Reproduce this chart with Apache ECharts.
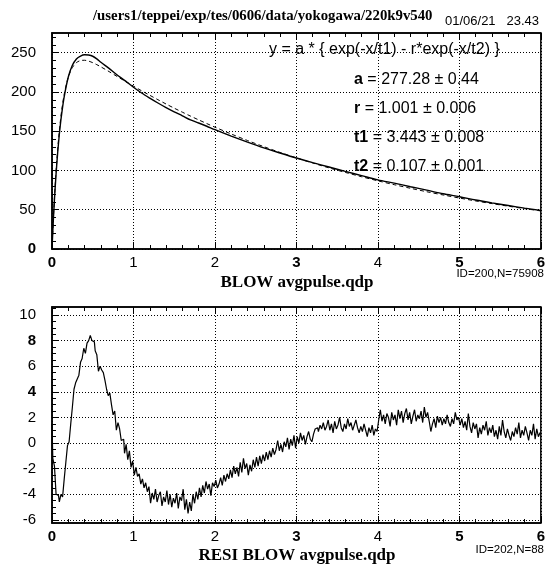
<!DOCTYPE html>
<html>
<head>
<meta charset="utf-8">
<script src="https://cdn.jsdelivr.net/npm/echarts@6/dist/echarts.min.js"></script>
<style>
html,body{margin:0;padding:0;background:#fff;}
#chart{width:548px;height:570px;}
</style>
</head>
<body>
<div id="chart"></div>
<script>
// ---------- data ----------
const titleText = '/users1/teppei/exp/tes/0606/data/yokogawa/220k9v540';
const dateText = '01/06/21   23.43';
const topXLabel = 'BLOW avgpulse.qdp';
const botXLabel = 'RESI BLOW avgpulse.qdp';
const topId = 'ID=200,N=75908';
const botId = 'ID=202,N=88';
const fitFormula = 'y = a * { exp(-x/t1) - r*exp(-x/t2) }';
const fitParams = [['a', ' = 277.28 ± 0.44'], ['r', ' = 1.001 ± 0.006'], ['t1', ' = 3.443 ± 0.008'], ['t2', ' = 0.107 ± 0.001']];

const xTicks = [0, 1, 2, 3, 4, 5, 6];
const topYTicks = [0, 50, 100, 150, 200, 250];
const botYTicks = [-6, -4, -2, 0, 2, 4, 6, 8, 10];

// upper panel: measured pulse (solid) and fit (dashed)
const topX = [0, 0.02, 0.04, 0.06, 0.08, 0.1, 0.12, 0.15, 0.2, 0.25, 0.3, 0.35, 0.4, 0.45, 0.5, 0.55, 0.6, 0.7, 0.8, 0.9,
  1.0, 1.1, 1.2, 1.3, 1.4, 1.5, 1.6, 1.7, 1.8, 1.9, 2.0, 2.2, 2.4, 2.6, 2.8, 3.0, 3.2, 3.4, 3.6, 3.8,
  4.0, 4.2, 4.4, 4.6, 4.8, 5.0, 5.2, 5.4, 5.6, 5.8, 6.0];
const pulseData = [0, 44, 80, 110, 135, 156, 173, 194, 219, 234, 242, 245.7, 247.3, 247, 245.4, 242, 237.7, 229.9, 221.6, 214,
  205.9, 198.6, 192.1, 185.9, 180.1, 174.7, 169.6, 164.3, 160.4, 156.3, 151.9, 143.8, 136.1, 128.8, 122.2, 115.8, 109.9, 104.4, 98.8, 93.4,
  88, 83.8, 79.3, 74.9, 70.3, 66.6, 62.4, 58.7, 55.3, 52, 49.1];
const fitData = [0, 45.4, 83.1, 114, 139.5, 160.3, 177.4, 197.1, 218.8, 231, 237.3, 239.9, 240.3, 239.2, 237.2, 234.7, 231.9, 225.9, 219.6, 213.5,
  207.4, 201.4, 195.7, 190.1, 184.6, 179.3, 174.2, 169.2, 164.4, 159.7, 155.1, 146.4, 138.1, 130.3, 122.9, 116, 109.5, 103.3, 97.5, 92,
  86.8, 81.9, 77.3, 72.9, 68.8, 64.9, 61.2, 57.8, 54.5, 51.4, 48.5];

// lower panel: residuals, one value every 0.02 from x = 0
const resStart = 0;
const resStep = 0.02;
const residuals = [
  1.5, -1.2, -1.8, -4.0, -4.1, -4.6, -4.0, -4.2, -2.8, -1.5,
  -0.2, 0.1, 1.5, 2.8, 4.2, 4.7, 5.0, 5.3, 6.3, 6.6,
  7.4, 7.0, 7.8, 8.0, 8.4, 8.0, 7.9, 7.2, 6.9, 5.6,
  6.0, 5.7, 5.5, 4.9, 4.2, 3.7, 3.9, 3.0, 2.2, 2.5,
  1.0, 1.6, 1.1, 0.2, 0.3, -0.8, -0.1, -1.3, -0.6, -1.9,
  -1.4, -2.5, -1.9, -2.6, -2.4, -3.2, -2.8, -3.5, -3.1, -3.8,
  -3.4, -4.7, -3.9, -4.4, -3.6, -4.6, -4.1, -3.8, -4.9, -4.2,
  -4.6, -3.7, -4.8, -4.0, -5.0, -4.3, -4.7, -3.9, -5.1, -4.2,
  -4.5, -3.6, -5.2, -4.4, -5.5, -4.6, -5.3, -4.0, -4.7, -3.8,
  -4.4, -3.5, -4.2, -3.3, -3.9, -3.0, -3.6, -3.2, -4.1, -3.1,
  -3.4, -2.9, -3.5, -3.2, -2.7, -3.3, -2.5, -3.0, -2.4, -2.8,
  -2.1, -2.7, -1.8, -2.4, -1.9, -2.6, -1.5, -2.3, -1.2, -2.0,
  -1.6, -2.5, -1.7, -2.2, -1.3, -1.9, -1.1, -1.8, -1.0, -1.6,
  -0.9, -1.4, -0.7, -1.3, -0.6, -1.1, -0.4, -0.9, -0.5, 0.2,
  -0.6, -0.1, -0.7, 0.1, -0.3, 0.4, -0.5, 0.3, -0.2, 0.6,
  -0.4, 0.5, 0.0, 0.8, 0.2, 0.6, -0.1, 0.5, 0.9, 0.3,
  0.1, 0.7, 1.1, 1.2, 0.9, 1.4, 1.1, 1.6, 1.0, 1.3,
  1.8, 1.0, 1.5, 0.8, 1.7, 1.1, 1.4, 2.0, 1.2, 0.9,
  1.5, 1.1, 1.9, 1.3, 1.6, 1.0, 1.4, 1.8, 1.2, 0.8,
  1.3, 0.9, 1.5, 1.0, 0.5, 1.2, 0.8, 1.4, 0.6, 1.1,
  0.9, 1.8, 2.6, 1.7, 2.2, 1.5, 2.3, 2.0, 1.3, 2.4,
  1.8, 2.2, 1.4, 2.6, 1.9, 2.5, 1.6, 2.3, 2.7, 1.8,
  2.4, 1.5, 2.1, 2.6, 1.7, 2.2, 1.9, 2.5, 1.6, 2.8,
  2.0, 2.4, 1.7, 0.9, 1.5, 1.9, 1.2, 2.1, 1.6, 2.0,
  1.4, 1.9, 1.5, 2.2, 1.6, 1.3, 1.9, 1.5, 2.4, 1.8,
  2.0, 1.4, 1.9, 1.2, 1.7, 1.0, 2.3, 1.3, 0.8, 1.6,
  1.1, 1.5, 0.4, 1.2, 0.7, 1.4, 1.0, 1.7, 0.6, 1.2,
  0.8, 1.4, 0.5, 1.0, 0.3, 1.3, 0.6, 1.8, 0.9, 0.4,
  1.1, 0.6, 0.2, 0.9, 0.5, 1.2, 0.7, 1.6, 0.4, 1.0,
  0.6, 1.3, 0.8, 0.2, 1.0, 0.6, 1.5, 0.3, 1.1, 0.5,
  0.8
];

// ---------- chart ----------
const boldX = [0, 3, 5, 6];
const topPairs = topX.map((x, i) => [x, pulseData[i]]);
const fitPairs = topX.map((x, i) => [x, fitData[i]]);
const resPairs = residuals.map((v, i) => [+(resStart + i * resStep).toFixed(2), v]);

function minorValues(lo, hi, step, majors) {
  const out = [];
  for (let v = lo; v <= hi + 1e-9; v += step) {
    const r = +v.toFixed(3);
    if (!majors.some(m => Math.abs(m - r) < 1e-6)) out.push(r);
  }
  return out;
}

const black = '#000';
const labelFont = 'Liberation Sans';
const dotted = { show: true, lineStyle: { color: '#000', width: 1, type: [1, 2] } };

function xAxesFor(grid) {
  return [
    {
      gridIndex: grid, type: 'value', min: 0, max: 6, interval: 1, position: 'bottom',
      axisLine: { show: true, onZero: false, lineStyle: { color: black, width: 1.5 } },
      axisTick: { show: true, inside: true, length: 7, lineStyle: { color: black } },
      minorTick: { show: true, splitNumber: 5, length: 4, lineStyle: { color: black } },
      splitLine: dotted,
      axisLabel: {
        margin: 6, color: black, fontFamily: labelFont, fontSize: 15,
        formatter: v => (boldX.includes(v) ? '{b|' + v + '}' : '{n|' + v + '}'),
        rich: { b: { fontWeight: 'bold', fontSize: 15, fontFamily: labelFont, color: black },
                n: { fontWeight: 'normal', fontSize: 15, fontFamily: labelFont, color: black } }
      }
    },
    {
      gridIndex: grid, type: 'value', min: 0, max: 6, interval: 1, position: 'top',
      axisLine: { show: true, onZero: false, lineStyle: { color: black, width: 1.5 } },
      axisTick: { show: true, inside: true, length: 7, lineStyle: { color: black } },
      minorTick: { show: true, splitNumber: 5, length: 4, lineStyle: { color: black } },
      splitLine: { show: false }, axisLabel: { show: false }
    }
  ];
}

function yAxesFor(grid, min, max, majors, minorStep, boldVals) {
  return [
    {
      gridIndex: grid, type: 'value', min: min, max: max, position: 'left',
      axisLine: { show: true, onZero: false, lineStyle: { color: black, width: 1.5 } },
      axisTick: { show: true, inside: true, length: 7, customValues: majors, lineStyle: { color: black } },
      splitLine: dotted,
      axisLabel: {
        customValues: majors, margin: 16, color: black, fontFamily: labelFont, fontSize: 15,
        formatter: v => (boldVals.includes(v) ? '{b|' + v + '}' : '{n|' + v + '}'),
        rich: { b: { fontWeight: 'bold', fontSize: 15, fontFamily: labelFont, color: black },
                n: { fontWeight: 'normal', fontSize: 15, fontFamily: labelFont, color: black } }
      }
    },
    {
      gridIndex: grid, type: 'value', min: min, max: max, position: 'left',
      axisLine: { show: false },
      axisTick: { show: true, inside: true, length: 4,
        customValues: minorValues(Math.ceil(min / minorStep) * minorStep, max, minorStep, majors),
        lineStyle: { color: black } },
      splitLine: { show: false }, axisLabel: { show: false }
    }
  ];
}

const graphics = [
  { type: 'text', left: 93, top: 9, style: { text: titleText, font: 'bold 14.8px "Liberation Serif"', fill: black } },
  { type: 'text', left: 445, top: 15, style: { text: dateText, font: '13px "Liberation Sans"', fill: black } },
  { type: 'text', x: 297, y: 283, style: { text: topXLabel, font: 'bold 17px "Liberation Serif"', fill: black, align: 'center', verticalAlign: 'middle' } },
  { type: 'text', right: 4, top: 268, style: { text: topId, font: '11.5px "Liberation Sans"', fill: black } },
  { type: 'text', x: 297, y: 556, style: { text: botXLabel, font: 'bold 17px "Liberation Serif"', fill: black, align: 'center', verticalAlign: 'middle' } },
  { type: 'text', right: 4, top: 544, style: { text: botId, font: '11.5px "Liberation Sans"', fill: black } },
  { type: 'text', left: 269, top: 42, style: { text: fitFormula, font: '16px "Liberation Sans"', fill: black } }
];
fitParams.forEach((p, i) => {
  graphics.push({
    type: 'text', left: 354, top: 72 + i * 29,
    style: {
      text: '{b|' + p[0] + '}{n|' + p[1] + '}',
      rich: { b: { font: 'bold 16px "Liberation Sans"', fill: black },
              n: { font: '16px "Liberation Sans"', fill: black } }
    }
  });
});

const option = {
  animation: false,
  backgroundColor: '#fff',
  grid: [
    { left: 52, top: 33, width: 491, height: 216, show: true, borderColor: black, borderWidth: 1.5, backgroundColor: 'transparent' },
    { left: 52, top: 307, width: 491, height: 216, show: true, borderColor: black, borderWidth: 1.5, backgroundColor: 'transparent' }
  ],
  xAxis: [...xAxesFor(0), ...xAxesFor(1)],
  yAxis: [
    ...yAxesFor(0, 0, 275, topYTicks, 10, [0]),
    ...yAxesFor(1, -6.24, 10.62, botYTicks, 0.5, [4, 8])
  ],
  graphic: graphics,
  series: [
    { type: 'line', xAxisIndex: 0, yAxisIndex: 0, data: fitPairs, showSymbol: false, symbol: 'none', smooth: 0.3,
      lineStyle: { color: black, width: 1, type: [4, 3] }, z: 3 },
    { type: 'line', xAxisIndex: 0, yAxisIndex: 0, data: topPairs, showSymbol: false, symbol: 'none', smooth: 0.3,
      lineStyle: { color: black, width: 1.4 }, z: 4 },
    { type: 'line', xAxisIndex: 2, yAxisIndex: 2, data: resPairs, showSymbol: false, symbol: 'none', step: 'middle',
      lineStyle: { color: black, width: 1.2 }, z: 4 }
  ]
};

const chart = echarts.init(document.getElementById('chart'), null, { renderer: 'canvas' });
chart.setOption(option);
</script>
</body>
</html>
